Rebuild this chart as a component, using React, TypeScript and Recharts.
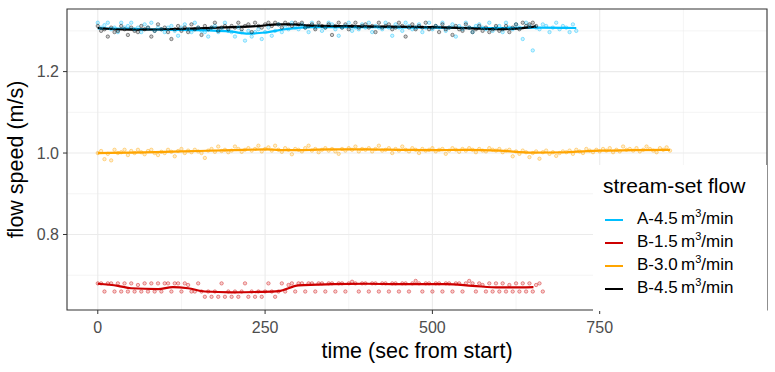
import React from 'react';
import { ComposedChart, Scatter, Line, XAxis, YAxis, CartesianGrid, ReferenceArea, Legend } from 'recharts';

// readings were taken every 5 s (only every 5th one plotted)
const SAMPLE_STEP = 5;

const xTicks = [0, 250, 500, 750];
const xMinor = [125, 375, 625, 875];
const yTicks = [0.8, 1.0, 1.2];
const yMinor = [0.7, 0.9, 1.1, 1.3];

// A-4.5 m3/min
const speedA45 = [
  1.320, 1.308, 1.314, 1.320, 1.304, 1.308, 1.297, 1.320, 1.308, 1.312, 1.320, 1.304, 1.308, 1.297, 1.316, 1.308, 1.320, 1.300, 1.308, 1.304,
  1.297, 1.308, 1.312, 1.300, 1.288, 1.308, 1.316, 1.304, 1.297, 1.320, 1.308, 1.300, 1.297, 1.286, 1.308, 1.312, 1.297, 1.304, 1.320, 1.300,
  1.297, 1.286, 1.308, 1.297, 1.276, 1.300, 1.286, 1.297, 1.304, 1.280, 1.297, 1.308, 1.288, 1.300, 1.316, 1.297, 1.308, 1.304, 1.320, 1.308,
  1.304, 1.316, 1.308, 1.297, 1.320, 1.308, 1.312, 1.300, 1.308, 1.320, 1.316, 1.304, 1.288, 1.308, 1.312, 1.320, 1.300, 1.308, 1.304, 1.316,
  1.308, 1.320, 1.297, 1.312, 1.308, 1.304, 1.320, 1.308, 1.288, 1.316, 1.308, 1.300, 1.320, 1.312, 1.304, 1.308, 1.316, 1.297, 1.308, 1.320,
  1.304, 1.312, 1.308, 1.320, 1.300, 1.308, 1.316, 1.286, 1.312, 1.304, 1.320, 1.308, 1.297, 1.312, 1.316, 1.308, 1.304, 1.320, 1.300, 1.308,
  1.312, 1.297, 1.320, 1.308, 1.304, 1.316, 1.308, 1.280, 1.320, 1.312, 1.252, 1.308, 1.304, 1.316, 1.312, 1.297, 1.308, 1.320, 1.304, 1.312,
  1.308, 1.297, 1.316, 1.300,
];

// B-1.5 m3/min
const speedB15 = [
  0.680, 0.680, 0.660, 0.680, 0.680, 0.660, 0.680, 0.660, 0.680, 0.660, 0.680, 0.660, 0.676, 0.660, 0.680, 0.660, 0.680, 0.660, 0.680, 0.660,
  0.680, 0.680, 0.660, 0.680, 0.680, 0.660, 0.680, 0.676, 0.660, 0.660, 0.680, 0.660, 0.647, 0.660, 0.647, 0.660, 0.647, 0.680, 0.647, 0.660,
  0.647, 0.660, 0.647, 0.660, 0.680, 0.647, 0.660, 0.647, 0.660, 0.647, 0.660, 0.680, 0.660, 0.647, 0.660, 0.680, 0.660, 0.676, 0.680, 0.660,
  0.680, 0.680, 0.660, 0.680, 0.680, 0.660, 0.680, 0.680, 0.660, 0.680, 0.680, 0.660, 0.680, 0.680, 0.660, 0.680, 0.684, 0.680, 0.660, 0.680,
  0.680, 0.660, 0.680, 0.680, 0.660, 0.680, 0.680, 0.660, 0.680, 0.680, 0.660, 0.680, 0.680, 0.660, 0.680, 0.686, 0.680, 0.660, 0.680, 0.680,
  0.660, 0.680, 0.680, 0.660, 0.680, 0.680, 0.660, 0.680, 0.680, 0.660, 0.680, 0.686, 0.680, 0.660, 0.680, 0.676, 0.660, 0.680, 0.660, 0.680,
  0.660, 0.680, 0.660, 0.676, 0.660, 0.680, 0.660, 0.680, 0.660, 0.680, 0.660, 0.676, 0.680, 0.660,
];

// B-3.0 m3/min
const speedB30 = [
  1.000, 1.005, 0.985, 0.998, 0.982, 1.008, 1.000, 1.002, 1.008, 0.995, 1.005, 1.000, 1.008, 1.002, 0.997, 1.005, 1.008, 1.000, 0.995, 1.003,
  1.000, 1.008, 1.003, 0.992, 1.005, 1.010, 1.000, 1.006, 1.002, 1.008, 1.004, 1.000, 0.988, 1.006, 1.010, 1.003, 1.016, 1.005, 1.008, 1.002,
  1.006, 1.016, 1.010, 1.003, 1.008, 1.012, 1.006, 1.010, 1.018, 1.004, 1.010, 1.014, 1.006, 1.018, 1.008, 1.003, 1.012, 1.008, 0.997, 1.010,
  1.008, 1.004, 1.012, 1.018, 1.006, 1.010, 1.002, 1.008, 1.012, 1.006, 1.010, 1.004, 0.998, 1.010, 1.006, 1.012, 1.008, 1.016, 1.004, 1.010,
  1.008, 1.012, 1.004, 1.010, 1.018, 1.006, 1.008, 1.012, 1.000, 1.010, 1.006, 1.016, 1.008, 1.004, 1.012, 1.008, 1.000, 1.010, 1.006, 1.008,
  1.012, 1.004, 1.008, 1.010, 0.998, 1.006, 1.012, 1.008, 1.003, 1.010, 1.006, 1.012, 1.008, 1.002, 1.010, 1.006, 1.004, 1.012, 1.008, 1.006,
  1.010, 1.002, 1.006, 1.008, 0.992, 1.004, 0.998, 1.006, 1.002, 0.990, 1.000, 1.004, 0.986, 1.002, 1.006, 0.998, 1.002, 0.993, 1.000, 1.004,
  1.002, 1.006, 0.998, 1.008, 1.004, 1.000, 1.010, 1.006, 1.002, 1.008, 1.004, 1.010, 1.006, 1.012, 1.002, 1.008, 1.004, 1.016, 1.008, 1.010,
  1.006, 1.012, 1.004, 1.008, 1.016, 1.010, 1.006, 1.002, 1.012, 1.008, 1.014, 1.006,
];

// B-4.5 m3/min
const speedB45 = [
  1.312, 1.300, 1.304, 1.286, 1.308, 1.297, 1.300, 1.312, 1.304, 1.290, 1.308, 1.300, 1.297, 1.312, 1.304, 1.308, 1.286, 1.300, 1.316, 1.304,
  1.308, 1.297, 1.280, 1.304, 1.312, 1.300, 1.308, 1.297, 1.316, 1.304, 1.308, 1.290, 1.312, 1.304, 1.308, 1.320, 1.300, 1.308, 1.312, 1.304,
  1.312, 1.308, 1.320, 1.304, 1.312, 1.316, 1.297, 1.320, 1.312, 1.308, 1.316, 1.320, 1.312, 1.320, 1.316, 1.308, 1.320, 1.316, 1.312, 1.320,
  1.316, 1.320, 1.308, 1.312, 1.316, 1.304, 1.320, 1.312, 1.308, 1.316, 1.290, 1.312, 1.320, 1.308, 1.316, 1.304, 1.312, 1.320, 1.308, 1.312,
  1.316, 1.308, 1.312, 1.297, 1.320, 1.308, 1.312, 1.316, 1.304, 1.308, 1.320, 1.312, 1.286, 1.308, 1.316, 1.304, 1.312, 1.308, 1.320, 1.304,
  1.308, 1.312, 1.297, 1.316, 1.304, 1.308, 1.290, 1.312, 1.304, 1.300, 1.316, 1.308, 1.297, 1.304, 1.312, 1.300, 1.308, 1.297, 1.304, 1.312,
  1.300, 1.304, 1.312, 1.297, 1.308, 1.316, 1.304, 1.320, 1.312, 1.316, 1.320, 1.312,
];

// smoothed trend
const trendA45Time = [0, 50, 100, 150, 200, 225, 250, 280, 320, 400, 500, 600, 660, 715];
const trendA45Speed = [1.306, 1.305, 1.303, 1.302, 1.298, 1.293, 1.296, 1.304, 1.309, 1.309, 1.308, 1.307, 1.308, 1.307];

const trendB15Time = [0, 30, 50, 90, 112, 135, 160, 200, 240, 270, 300, 350, 400, 450, 520, 560, 600, 651];
const trendB15Speed = [0.679, 0.674, 0.668, 0.666, 0.671, 0.668, 0.660, 0.658, 0.659, 0.661, 0.675, 0.678, 0.679, 0.678, 0.678, 0.674, 0.670, 0.671];

const trendB30Time = [0, 50, 100, 150, 200, 250, 285, 350, 400, 450, 500, 550, 600, 650, 700, 750, 800, 855];
const trendB30Speed = [1.000, 1.001, 1.003, 1.005, 1.007, 1.009, 1.007, 1.009, 1.009, 1.008, 1.007, 1.008, 1.006, 1.001, 1.002, 1.006, 1.007, 1.008];

const trendB45Time = [0, 25, 50, 100, 150, 200, 240, 270, 290, 320, 400, 500, 560, 600, 630, 655];
const trendB45Speed = [1.307, 1.304, 1.303, 1.304, 1.306, 1.309, 1.312, 1.316, 1.316, 1.313, 1.311, 1.309, 1.306, 1.304, 1.306, 1.311];

const toPoints = (speeds: number[]) => speeds.map((v, i) => ({ t: i * SAMPLE_STEP, v }));
const toTrend = (times: number[], speeds: number[]) => times.map((t, i) => ({ t, v: speeds[i] }));

const series = [
  { key: 'A45', label: 'A-4.5', color: '#00BFFF', points: toPoints(speedA45), trend: toTrend(trendA45Time, trendA45Speed) },
  { key: 'B15', label: 'B-1.5', color: '#CD0000', points: toPoints(speedB15), trend: toTrend(trendB15Time, trendB15Speed) },
  { key: 'B30', label: 'B-3.0', color: '#FFA500', points: toPoints(speedB30), trend: toTrend(trendB30Time, trendB30Speed) },
  { key: 'B45', label: 'B-4.5', color: '#000000', points: toPoints(speedB45), trend: toTrend(trendB45Time, trendB45Speed) },
];

const FONT = '"Liberation Sans", Arial, Helvetica, sans-serif';

const ring = (color: string) => (props: any) => (
  <circle
    cx={props.cx}
    cy={props.cy}
    r={1.7}
    fill={color}
    fillOpacity={0.2}
    stroke={color}
    strokeOpacity={0.5}
    strokeWidth={0.8}
  />
);

const LegendBox = () => (
  <div style={{ width: 174, height: 146, background: '#fff', fontFamily: FONT, color: '#000', boxSizing: 'border-box', paddingLeft: 10, paddingTop: 10 }}>
    <div style={{ fontSize: 21, lineHeight: '21px', height: 21, marginBottom: 12, whiteSpace: 'nowrap' }}>stream-set flow</div>
    {series.map((s) => (
      <div key={s.key} style={{ display: 'flex', alignItems: 'center', height: 23, fontSize: 17, lineHeight: '23px', whiteSpace: 'nowrap' }}>
        <div style={{ width: 18, height: 2, background: s.color, marginLeft: 2, marginRight: 14 }} />
        <span>
          {s.label}
          {'\u2009'}m<span style={{ fontSize: 11, position: 'relative', top: -7 }}>3</span>/min
        </span>
      </div>
    ))}
  </div>
);

const YTitle = (props: any) => {
  const vb = props.viewBox;
  const cy = vb.y + vb.height / 2;
  return (
    <text x={23} y={cy} transform={`rotate(-90, 23, ${cy})`} textAnchor="middle" fontSize={21.5} fill="#000" fontFamily={FONT}>
      flow speed (m/s)
    </text>
  );
};

export default function App() {
  return (
    <div style={{ width: 775, height: 372, fontFamily: FONT }}>
      <style>{'body{margin:0}'}</style>
      <ComposedChart width={775} height={372} margin={{ top: 9, right: 8, bottom: 0, left: 0 }}>
        <CartesianGrid horizontalValues={yMinor} verticalValues={xMinor} stroke="#EBEBEB" strokeWidth={0.55} />
        <CartesianGrid horizontalValues={yTicks} verticalValues={xTicks} stroke="#EBEBEB" strokeWidth={1.1} />
        <XAxis
          dataKey="t"
          type="number"
          domain={[-46, 1000]}
          ticks={xTicks}
          allowDataOverflow
          height={62}
          axisLine={false}
          tickLine={{ stroke: '#333333' }}
          tickSize={4}
          tickMargin={8}
          tick={{ fill: '#4D4D4D', fontSize: 16, fontFamily: FONT }}
          label={{ value: 'time (sec from start)', position: 'insideBottom', offset: 14, fontSize: 21.5, fill: '#000', fontFamily: FONT }}
        />
        <YAxis
          dataKey="v"
          type="number"
          domain={[0.6146, 1.3537]}
          ticks={yTicks}
          allowDataOverflow
          width={67}
          axisLine={false}
          tickLine={{ stroke: '#333333' }}
          tickSize={4}
          tickMargin={4}
          tickFormatter={(v: number) => v.toFixed(1)}
          tick={{ fill: '#4D4D4D', fontSize: 16, fontFamily: FONT }}
          label={<YTitle />}
        />
        {series.map((s) => (
          <Scatter key={`p-${s.key}`} data={s.points} dataKey="v" shape={ring(s.color)} isAnimationActive={false} />
        ))}
        {series.map((s) => (
          <Line
            key={`l-${s.key}`}
            data={s.trend}
            dataKey="v"
            type="monotone"
            stroke={s.color}
            strokeWidth={2.2}
            dot={false}
            activeDot={false}
            isAnimationActive={false}
          />
        ))}
        <ReferenceArea x1={-46} x2={1000} y1={0.6146} y2={1.3537} fill="none" stroke="#333333" strokeWidth={1.1} ifOverflow="visible" />
        <Legend
          layout="horizontal"
          verticalAlign="middle"
          content={() => <LegendBox />}
          wrapperStyle={{ left: 593, top: 165, width: 174, height: 146 }}
        />
      </ComposedChart>
    </div>
  );
}
